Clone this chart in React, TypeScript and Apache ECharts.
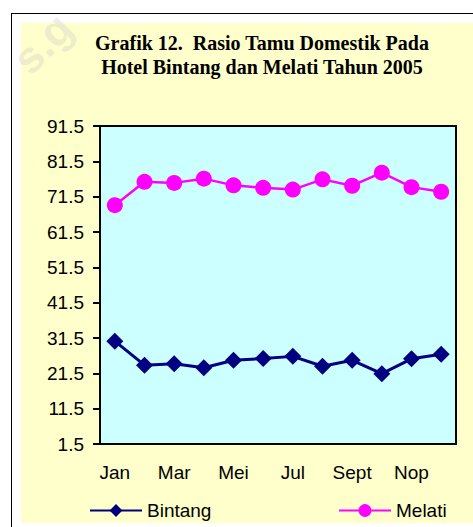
import React, { useEffect, useRef } from "react";
import * as echarts from "echarts";

const months = ["Jan", "Feb", "Mar", "Apr", "Mei", "Jun", "Jul", "Agust", "Sept", "Okt", "Nop", "Des"];
const bintang = [30.6, 23.8, 24.2, 23.1, 25.2, 25.7, 26.3, 23.5, 25.2, 21.4, 25.6, 26.9];
const melati = [69.1, 75.7, 75.4, 76.6, 74.7, 74.0, 73.5, 76.4, 74.6, 78.3, 74.2, 72.9];
const titleText = "Grafik 12.  Rasio Tamu Domestik Pada\nHotel Bintang dan Melati Tahun 2005";
const watermarkText = "s.g";
const yMin = 1.5;
const yMax = 91.5;
const yStep = 10;

export default function App() {
  const ref = useRef<HTMLDivElement>(null);
  useEffect(() => {
    document.body.style.margin = "0";
    const chart = echarts.init(ref.current!, null, { renderer: "svg" });
    const font = "'Liberation Sans', Arial, sans-serif";
    chart.setOption({
      animation: false,
      backgroundColor: "transparent",
      graphic: [
        {
          type: "text",
          x: 262,
          y: 31,
          style: {
            text: titleText,
            font: "bold 20px 'Liberation Serif', 'Times New Roman', serif",
            fill: "#000",
            textAlign: "center",
            lineHeight: 24,
          },
        },
        {
          type: "text",
          x: 20,
          y: 66,
          rotation: 0.8,
          z: 100,
          style: {
            text: watermarkText,
            fontSize: 44,
            fontWeight: "bold",
            fontFamily: font,
            fill: "rgba(200,200,200,0.32)",
            textVerticalAlign: "middle",
          },
        },
      ],
      grid: {
        left: 100,
        top: 126,
        width: 356,
        height: 318,
        show: true,
        backgroundColor: "#CCFFFF",
        borderColor: "#000",
        borderWidth: 2,
      },
      legend: [
        {
          data: ["Bintang"],
          left: 84,
          top: 496,
          itemWidth: 52,
          itemHeight: 16,
          itemGap: 5,
          textStyle: { fontFamily: font, fontSize: 19, color: "#000" },
        },
        {
          data: ["Melati"],
          left: 333,
          top: 496,
          itemWidth: 52,
          itemHeight: 16,
          itemGap: 5,
          textStyle: { fontFamily: font, fontSize: 19, color: "#000" },
        },
      ],
      xAxis: {
        type: "category",
        data: months,
        boundaryGap: true,
        axisLine: { lineStyle: { color: "#000", width: 2 } },
        axisTick: { show: false },
        axisLabel: { interval: 1, fontFamily: font, fontSize: 19, color: "#000", margin: 19 },
        splitLine: { show: false },
      },
      yAxis: {
        type: "value",
        min: yMin,
        max: yMax,
        interval: yStep,
        axisLine: { show: true, lineStyle: { color: "#000", width: 2 } },
        axisTick: { show: true, length: 7, lineStyle: { color: "#000", width: 2 } },
        axisLabel: { fontFamily: font, fontSize: 19, color: "#000", margin: 16, formatter: (v: number) => v.toFixed(1) },
        splitLine: { show: false },
      },
      series: [
        {
          name: "Bintang",
          type: "line",
          data: bintang,
          symbol: "diamond",
          symbolSize: 17,
          color: "#000080",
          lineStyle: { color: "#000080", width: 3 },
          itemStyle: { color: "#000080" },
        },
        {
          name: "Melati",
          type: "line",
          data: melati,
          symbol: "circle",
          symbolSize: 16,
          color: "#FF00FF",
          lineStyle: { color: "#FF00FF", width: 2.5 },
          itemStyle: { color: "#FF00FF" },
        },
      ],
    });
    return () => chart.dispose();
  }, []);
  return (
    <div style={{ position: "relative", width: 473, height: 527, overflow: "hidden", background: "#fff" }}>
      <div
        style={{
          position: "absolute",
          left: 11,
          top: 13,
          width: 480,
          height: 540,
          borderLeft: "1.5px solid #000",
          borderTop: "1.5px solid #000",
          boxSizing: "border-box",
        }}
      />
      <div style={{ position: "absolute", left: 21, top: 23, width: 452, height: 500, background: "#FFFFCC" }} />
      <div ref={ref} style={{ position: "absolute", left: 0, top: 0, width: 473, height: 527 }} />
    </div>
  );
}
